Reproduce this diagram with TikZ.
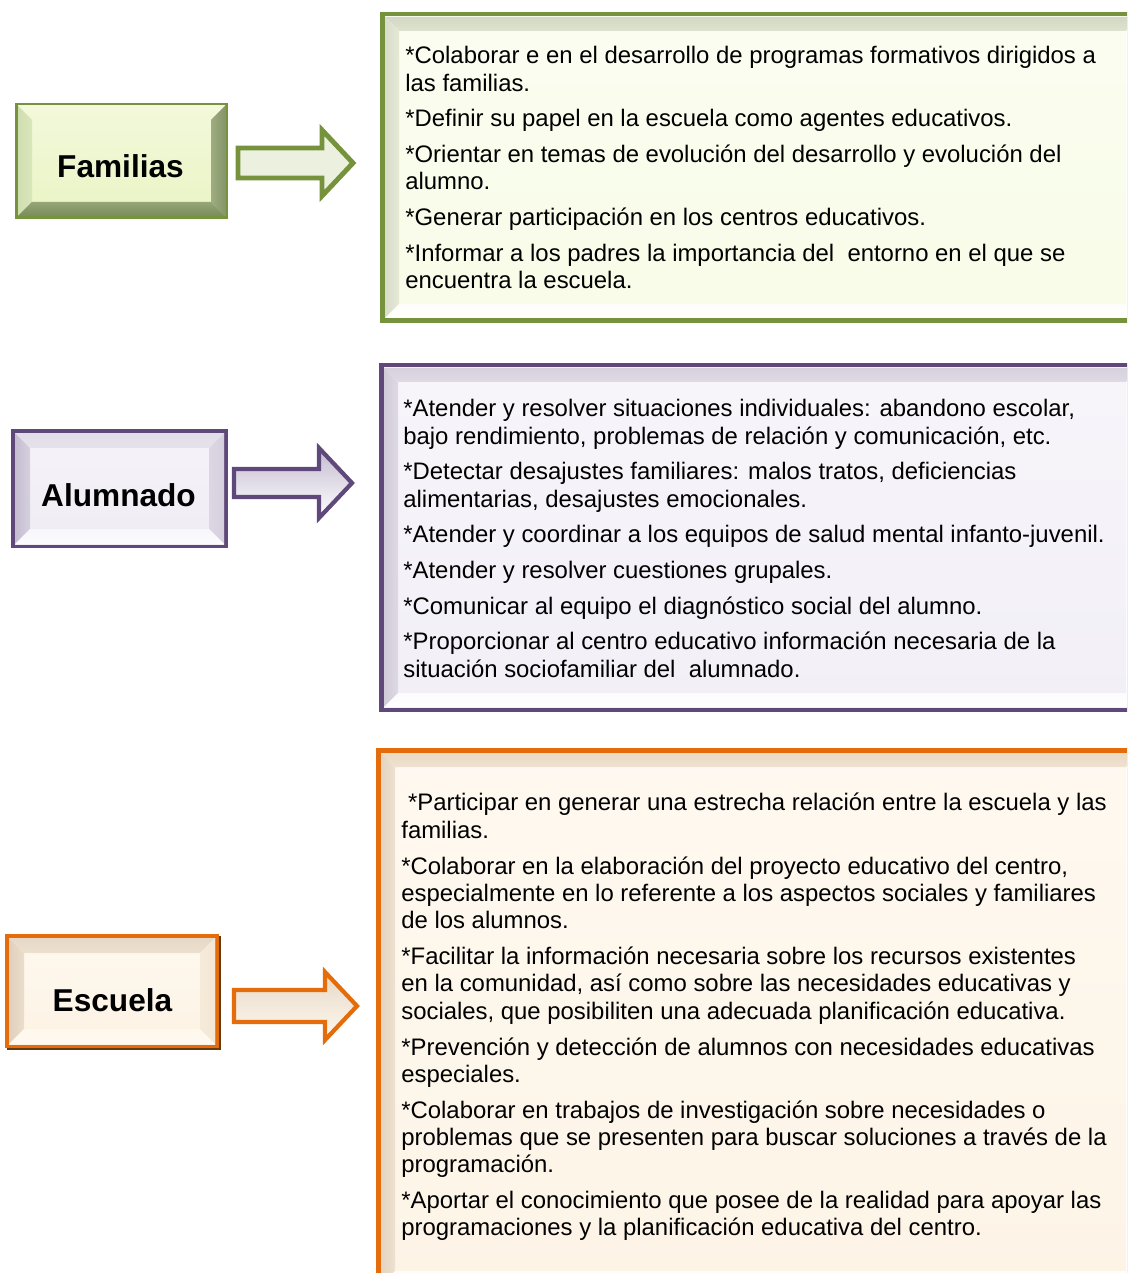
\documentclass[tikz,border=0pt]{standalone}
\usepackage{fontspec}
\setmainfont{Liberation Sans}
\usetikzlibrary{arrows.meta,positioning}

\definecolor{famline}{HTML}{76923C}
\definecolor{famface}{HTML}{EAF4C4}
\definecolor{famtop}{HTML}{F4F9DC}
\definecolor{famleft}{HTML}{CFDDB0}
\definecolor{famright}{HTML}{86966A}
\definecolor{fambot}{HTML}{7A8C5C}
\definecolor{famarr}{HTML}{EBF1DE}
\definecolor{aluline}{HTML}{5F497A}
\definecolor{aluface}{HTML}{EFECF4}
\definecolor{alutop}{HTML}{E2DEE8}
\definecolor{alueft}{HTML}{C5BDD0}
\definecolor{aluright}{HTML}{D6CFDF}
\definecolor{alubot}{HTML}{FBFAFD}
\definecolor{escline}{HTML}{E46C0A}
\definecolor{escdark}{HTML}{6B3A0A}
\definecolor{escface}{HTML}{FDF3E4}
\definecolor{esctop}{HTML}{E6D8C6}
\definecolor{escleft}{HTML}{E0CFBC}
\definecolor{escright}{HTML}{F4E7D5}
\definecolor{escbot}{HTML}{FFF9F0}
% panels on the right
\definecolor{pfface}{HTML}{F8FCE7}
\definecolor{pftop}{HTML}{D3D8C5}
\definecolor{pfleft}{HTML}{D8DCCA}
\definecolor{paface}{HTML}{F2EFF7}
\definecolor{patop}{HTML}{D6D1DD}
\definecolor{paleft}{HTML}{D1CBD9}
\definecolor{peface}{HTML}{FDF4E6}
\definecolor{petop}{HTML}{EADAC6}
\definecolor{peleft}{HTML}{E4D4C1}

% line colour, face, top, left, right, bottom
% then \bevelrect{x1}{y1}{x2}{y2}{border}{bevel}
\newcommand{\bevelcols}[6]{\colorlet{bvline}{#1}\colorlet{bvface}{#2}\colorlet{bvtop}{#3}\colorlet{bvleft}{#4}\colorlet{bvright}{#5}\colorlet{bvbot}{#6}}
\newcommand{\bevelrect}[6]{%
  \fill[bvline] (#1,#2) rectangle (#3,#4);
  \shade[top color=bvface!60!white,bottom color=bvface] (#1+#5,#2+#5) rectangle (#3-#5,#4-#5);
  \shade[top color=bvtop,bottom color=bvtop!70!bvface] (#1+#5,#2+#5) -- (#3-#5,#2+#5) -- (#3-#5-#6,#2+#5+#6) -- (#1+#5+#6,#2+#5+#6) -- cycle;
  \shade[left color=bvleft,right color=bvleft!60!bvface] (#1+#5,#2+#5) -- (#1+#5+#6,#2+#5+#6) -- (#1+#5+#6,#4-#5-#6) -- (#1+#5,#4-#5) -- cycle;
  \shade[left color=bvright!75!bvface,right color=bvright] (#3-#5,#2+#5) -- (#3-#5,#4-#5) -- (#3-#5-#6,#4-#5-#6) -- (#3-#5-#6,#2+#5+#6) -- cycle;
  \shade[top color=bvbot!75!bvface,bottom color=bvbot] (#1+#5,#4-#5) -- (#3-#5,#4-#5) -- (#3-#5-#6,#4-#5-#6) -- (#1+#5+#6,#4-#5-#6) -- cycle;
}
% shaft x, head x, tip x, mid y, shaft half, head half
\newcommand{\blockarrow}[7]{%
  \path[#1] (#2,#5-#6) -- (#3,#5-#6) -- (#3,#5-#7) -- (#4,#5) -- (#3,#5+#7) -- (#3,#5+#6) -- (#2,#5+#6) -- cycle;}

\tikzset{
  label/.style={font=\bfseries\fontsize{18}{21}\selectfont,inner sep=0pt},
  body/.style={font=\fontsize{13.6}{15.6}\selectfont,align=left,anchor=north west,inner sep=0pt},
  famarrow/.style={draw=famline,line width=2.8pt,fill=famarr,miter limit=20},
  aluarrow/.style={draw=aluline,line width=2.4pt,top color=aluface!70!aluline,bottom color=white,miter limit=20},
  escarrow/.style={draw=escline,line width=2.4pt,top color=esctop,bottom color=escbot,miter limit=20}
}

\begin{document}
\begin{tikzpicture}[x=0.02cm,y=-0.02cm]
\useasboundingbox (0,0) rectangle (1127,1273);
\clip (0,0) rectangle (1127,1273);

% left boxes
\bevelcols{famline}{famface}{famtop}{famleft}{famright}{fambot}
\bevelrect{15}{103}{228}{219}{3}{14}
\bevelcols{aluline}{aluface}{alutop}{alueft}{aluright}{alubot}
\bevelrect{11}{429}{228}{548}{4}{15}
\fill[escdark] (7,936) rectangle (221,1050);
\bevelcols{escline}{escface}{esctop}{escleft}{escright}{escbot}
\bevelrect{5}{934}{219}{1048}{4}{15}

\node[label] (fam) at (120.5,166) {Familias};
\node[label] (alu) at (118.5,495) {Alumnado};
\node[label] (esc) at (112.5,1000) {Escuela};

% arrows
\blockarrow{famarrow}{238}{322}{353}{163}{15}{33}
\blockarrow{aluarrow}{234}{319}{352}{483}{14}{35}
\blockarrow{escarrow}{234}{325}{357}{1006}{16}{34}

% right panels
\bevelcols{famline}{pfface}{pftop}{pfleft}{white}{white}
\bevelrect{380}{12}{1145}{323}{5}{14}
\bevelcols{aluline}{paface}{patop}{paleft}{white}{white}
\bevelrect{379}{363}{1145}{712}{5}{14}
\bevelcols{escline}{peface}{petop}{peleft}{white}{white}
\bevelrect{376}{748}{1145}{1290}{5}{14}

\node[body] (famtxt) at (405,46) {*Colaborar e en el desarrollo de programas formativos dirigidos a\\
las familias.\\[4.7pt]
*Definir su papel en la escuela como agentes educativos.\\[4.7pt]
*Orientar en temas de evolución del desarrollo y evolución del\\
alumno.\\[4.7pt]
*Generar participación en los centros educativos.\\[4.7pt]
*Informar a los padres la importancia del\ \ entorno en el que se\\
encuentra la escuela.};

\node[body] (alutxt) at (403,399) {*Atender y resolver situaciones individuales: abandono escolar,\\
bajo rendimiento, problemas de relación y comunicación, etc.\\[4.7pt]
*Detectar desajustes familiares: malos tratos, deficiencias\\
alimentarias, desajustes emocionales.\\[4.7pt]
*Atender y coordinar a los equipos de salud mental infanto-juvenil.\\[4.7pt]
*Atender y resolver cuestiones grupales.\\[4.7pt]
*Comunicar al equipo el diagnóstico social del alumno.\\[4.7pt]
*Proporcionar al centro educativo información necesaria de la\\
situación sociofamiliar del\ \ alumnado.};

\node[body] (esctxt) at (401,793) {\hspace*{0.28em}*Participar en generar una estrecha relación entre la escuela y las\\
familias.\\[4.7pt]
*Colaborar en la elaboración del proyecto educativo del centro,\\
especialmente en lo referente a los aspectos sociales y familiares\\
de los alumnos.\\[4.7pt]
*Facilitar la información necesaria sobre los recursos existentes\\
en la comunidad, así como sobre las necesidades educativas y\\
sociales, que posibiliten una adecuada planificación educativa.\\[4.7pt]
*Prevención y detección de alumnos con necesidades educativas\\
especiales.\\[4.7pt]
*Colaborar en trabajos de investigación sobre necesidades o\\
problemas que se presenten para buscar soluciones a través de la\\
programación.\\[4.7pt]
*Aportar el conocimiento que posee de la realidad para apoyar las\\
programaciones y la planificación educativa del centro.};
\end{tikzpicture}
\end{document}
